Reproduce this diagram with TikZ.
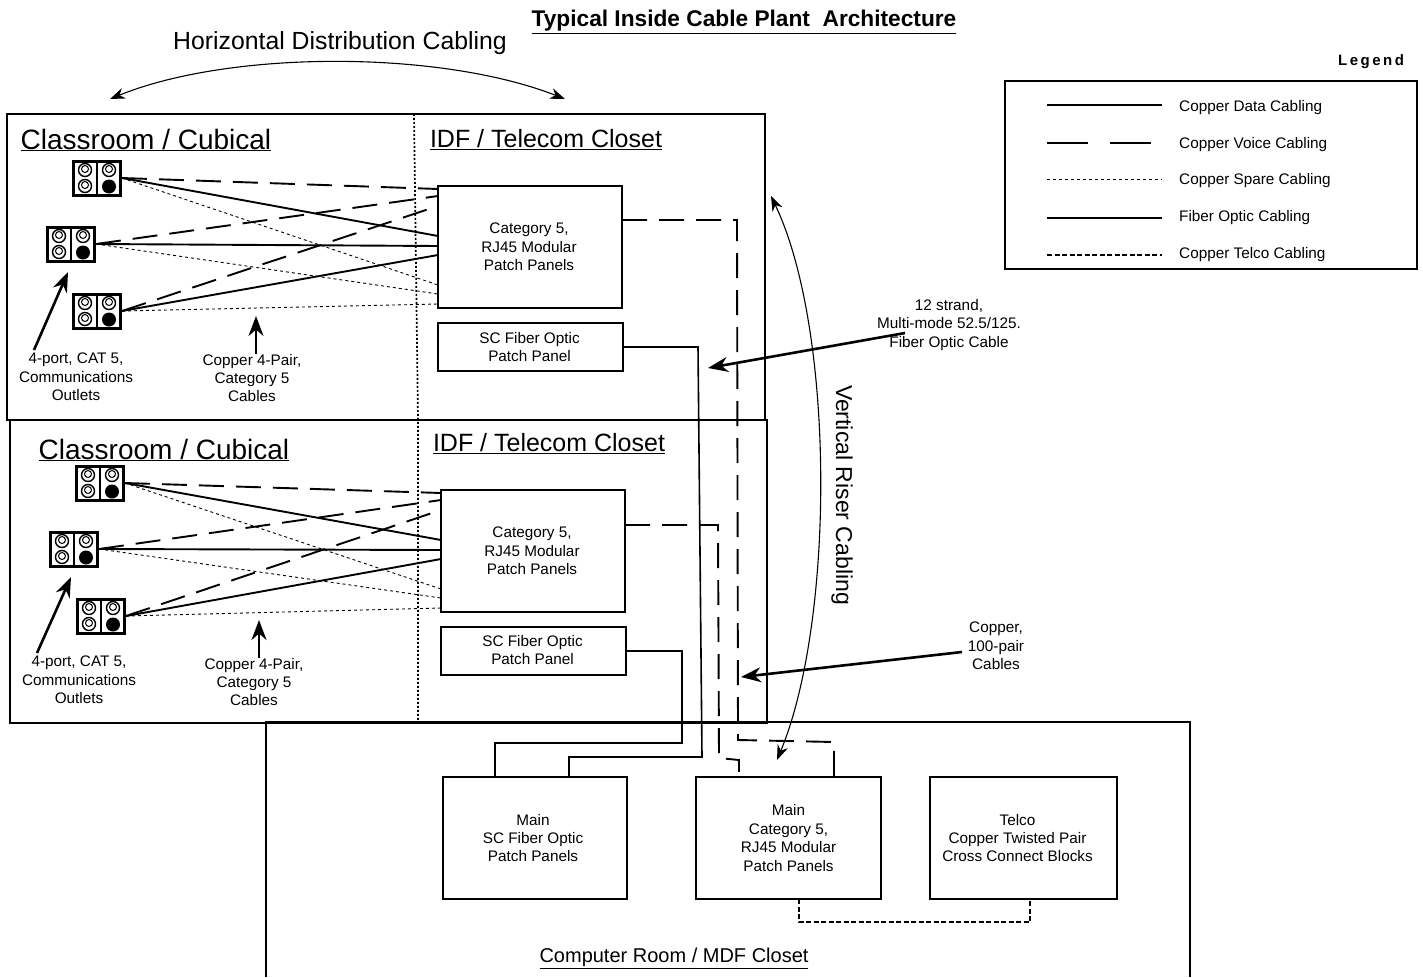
\documentclass[tikz,border=0pt]{standalone}
\usepackage{fontspec}
\setmainfont{Liberation Sans}
\usetikzlibrary{calc,arrows.meta}
\newcommand{\fs}[1]{\fontsize{#1}{#1}\selectfont}
\tikzset{
  panel/.style={draw=black,line width=1.5pt,rectangle,anchor=north west,inner sep=0pt,outer sep=0pt},
  lbl/.style={align=center,inner sep=0pt,text=black,font=\fontsize{15.3}{18.4}\selectfont},
  datac/.style={line width=1.9pt},
  voicec/.style={line width=1.9pt,dash pattern=on 25pt off 12pt},
  sparec/.style={line width=0.9pt,dash pattern=on 3pt off 3pt},
  fiberc/.style={line width=1.6pt},
  telcoc/.style={line width=1.7pt,dash pattern=on 5pt off 2.5pt},
  divc/.style={line width=1.7pt,dash pattern=on 2pt off 2pt},
  bigarrow/.style={line width=2.6pt,-{Stealth[length=20pt,width=15pt]}},
  curvearrow/.style={line width=1.1pt,{Stealth[length=15pt,width=11pt]}-{Stealth[length=15pt,width=11pt]}},
  outlet/.pic={
    \node[draw=black,line width=3pt,minimum width=47pt,minimum height=34pt,inner sep=0pt,outer sep=1.5pt,rectangle] (box) at (0,0) {};
    \draw[line width=1.6pt] (0,-17) -- (0,17);
    \foreach \p/\q in {-12/-8,12/-8,-12/8}{
      \draw[line width=1.4pt] (\p,\q) circle[radius=6.5pt];
      \draw[line width=1pt] (\p,\q-1) circle[radius=3.5pt];
    }
    \fill (12,8.5) circle[radius=7pt];
  }
}
\begin{document}
\begin{tikzpicture}[x=1pt,y=-1pt]
\useasboundingbox (0,0) rectangle (1423,977);
% areas
\node[panel,minimum width=758pt,minimum height=306pt] (upper) at (7,114) {};
\node[panel,minimum width=757pt,minimum height=303pt] (lower) at (10,420) {};
\draw[line width=1.5pt] (266,977) -- (266,722) -- (1190,722) -- (1190,977);
\coordinate (du) at (414,114); \coordinate (dm) at (418,420); \coordinate (dl) at (418,723);
\draw[divc] (du) -- (dm) -- (dl);
% panels
\node[panel,minimum width=184pt,minimum height=122pt] (pp1) at (438,186) {};
\node[panel,minimum width=185pt,minimum height=48pt] (sc1) at (438,323) {};
\node[panel,minimum width=184pt,minimum height=122pt] (pp2) at (441,490) {};
\node[panel,minimum width=185pt,minimum height=48pt] (sc2) at (441,627) {};
\node[panel,minimum width=184pt,minimum height=122pt] (msc) at (443,777) {};
\node[panel,minimum width=185pt,minimum height=122pt] (mcat) at (696,777) {};
\node[panel,minimum width=187pt,minimum height=122pt] (telco) at (930,777) {};
% outlets
\pic (oa) at (97,178) {outlet};
\pic (ob) at (71,244) {outlet};
\pic (oc) at (97,311) {outlet};
\pic (od) at (100,483) {outlet};
\pic (oe) at (74,549) {outlet};
\pic (of) at (101,616) {outlet};
% upper cables
\draw[datac] (oabox.east) -- ($(pp1.north west)+(0,50)$);
\draw[datac] (obbox.east) -- ($(pp1.north west)+(0,60)$);
\draw[datac] (ocbox.east) -- ($(pp1.north west)+(0,69)$);
\draw[voicec] (oabox.east) -- ($(pp1.north west)+(0,3)$);
\draw[voicec] (obbox.east) -- ($(pp1.north west)+(0,10)$);
\draw[voicec] (ocbox.east) -- ($(pp1.north west)+(0,20)$);
\draw[sparec] (oabox.east) -- ($(pp1.north west)+(0,99)$);
\draw[sparec] (obbox.east) -- ($(pp1.north west)+(0,108)$);
\draw[sparec] (ocbox.east) -- ($(pp1.north west)+(0,118)$);
% lower cables
\draw[datac] (odbox.east) -- ($(pp2.north west)+(0,50)$);
\draw[datac] (oebox.east) -- ($(pp2.north west)+(0,60)$);
\draw[datac] (ofbox.east) -- ($(pp2.north west)+(0,69)$);
\draw[voicec] (odbox.east) -- ($(pp2.north west)+(0,3)$);
\draw[voicec] (oebox.east) -- ($(pp2.north west)+(0,10)$);
\draw[voicec] (ofbox.east) -- ($(pp2.north west)+(0,20)$);
\draw[sparec] (odbox.east) -- ($(pp2.north west)+(0,99)$);
\draw[sparec] (oebox.east) -- ($(pp2.north west)+(0,108)$);
\draw[sparec] (ofbox.east) -- ($(pp2.north west)+(0,118)$);
% riser
\draw[voicec] ($(pp1.north east)+(0,34)$) -- (737,220) -- (738,740) -- (834,742) -- (mcat.north -| 834,0);
\draw[voicec] ($(pp2.north east)+(0,35)$) -- (718,525) -- (719,758) -- (739,760) -- (mcat.north -| 739,0);
\draw[fiberc] (sc1.east) -- (698,347) -- (702,757) -- (569,757) -- (msc.north -| 569,0);
\draw[fiberc] (sc2.east) -- (682,651) -- (682,743) -- (495,743) -- (msc.north -| 495,0);
\draw[telcoc] (mcat.south -| 799,0) -- (799,922) -- (1030,922) -- (telco.south -| 1030,0);
% texts
\node[lbl,font=\bfseries\fontsize{22.7}{24}\selectfont] (title) at (744,22) {\underline{Typical Inside Cable Plant\ \ Architecture}};
\node[lbl,font=\fs{24.8}] (hd) at (340,43) {Horizontal Distribution Cabling};
\node[lbl,font=\fs{28}] (c1) at (146,140) {\underline{Classroom / Cubical}};
\node[lbl,font=\fs{28}] (c2) at (164,450) {\underline{Classroom / Cubical}};
\node[lbl,font=\fs{25}] (i1) at (546,140) {\underline{IDF / Telecom Closet}};
\node[lbl,font=\fs{25}] (i2) at (549,444) {\underline{IDF / Telecom Closet}};
\node[lbl] at ($(pp1.center)+(-1,0)$) (t1) {Category 5,\\RJ45 Modular\\Patch Panels};
\node[lbl] at ($(pp2.center)+(-1,0)$) (t2) {Category 5,\\RJ45 Modular\\Patch Panels};
\node[lbl] at ($(sc1.center)+(-1,0)$) (t3) {SC Fiber Optic\\Patch Panel};
\node[lbl] at ($(sc2.center)+(-1,-1)$) (t4) {SC Fiber Optic\\Patch Panel};
\node[lbl] at ($(msc.center)+(-2,0)$) (t5) {Main\\SC Fiber Optic\\Patch Panels};
\node[lbl] at (mcat.center) (t6) {Main\\Category 5,\\RJ45 Modular\\Patch Panels};
\node[lbl] at ($(telco.center)+(-6,0)$) (t7) {Telco\\Copper Twisted Pair\\Cross Connect Blocks};
\node[lbl] (a1) at (76,377) {4-port, CAT 5,\\Communications\\Outlets};
\node[lbl] (a2) at (79,680) {4-port, CAT 5,\\Communications\\Outlets};
\node[lbl] (b1) at (252,378) {Copper 4-Pair,\\Category 5\\Cables};
\node[lbl] (b2) at (254,682) {Copper 4-Pair,\\Category 5\\Cables};
\node[lbl] (s12) at (949,325) {12 strand,\\Multi-mode 52.5/125.\\Fiber Optic Cable};
\node[lbl] (cu) at (996,646) {Copper,\\100-pair\\Cables};
\node[lbl,font=\fs{23},rotate=-90] (vr) at (842,495) {Vertical Riser Cabling};
\node[lbl,font=\fs{20}] (cr) at (674,958) {\underline{Computer Room / MDF Closet}};
% arrows
\coordinate (ha) at (110,99); \coordinate (hb) at (565,99);
\draw[curvearrow] (ha) .. controls (230,50) and (440,50) .. (hb);
\coordinate (va) at (771,196); \coordinate (vb) at (777,760);
\draw[curvearrow] (va) .. controls (835,330) and (835,620) .. (vb);
\coordinate (ta1) at (68,272); \coordinate (ta2) at (71,577);
\coordinate (tb1) at (256,316); \coordinate (tb2) at (259,620);
\coordinate (t12) at (708,368); \coordinate (tcu) at (741,677);
\draw[bigarrow] (34,350) -- (ta1);
\draw[bigarrow] (37,653) -- (ta2);
\draw[bigarrow] (tb1 |- b1.north) -- (tb1);
\draw[bigarrow] (tb2 |- b2.north) -- (tb2);
\draw[bigarrow] (905,333) -- (t12);
\draw[bigarrow] (962,652) -- (tcu);
% legend
\node[panel,line width=1.2pt,minimum width=412pt,minimum height=188pt] (leg) at (1005,81) {};
\node[lbl,font=\bfseries\fs{15}] (legt) at (1371,62) {L\,e\,g\,e\,n\,d};
\tikzset{legtext/.style={lbl,anchor=west}}
\node[legtext] (l1) at (1179,108) {Copper Data Cabling};
\node[legtext] (l2) at (1179,145) {Copper Voice Cabling};
\node[legtext] (l3) at (1179,181) {Copper Spare Cabling};
\node[legtext] (l4) at (1179,218) {Fiber Optic Cabling};
\node[legtext] (l5) at (1179,255) {Copper Telco Cabling};
\coordinate (k1) at (1047,105); \coordinate (k2) at (1047,143); \coordinate (k3) at (1047,179); \coordinate (k4) at (1047,218); \coordinate (k5) at (1047,255);
\draw[datac] (k1) -- ++(115,0);
\draw[line width=1.9pt,dash pattern=on 41pt off 22pt] (k2) -- ++(105,0);
\draw[sparec] (k3) -- ++(115,0);
\draw[fiberc] (k4) -- ++(115,0);
\draw[telcoc] (k5) -- ++(115,0);
\end{tikzpicture}
\end{document}
